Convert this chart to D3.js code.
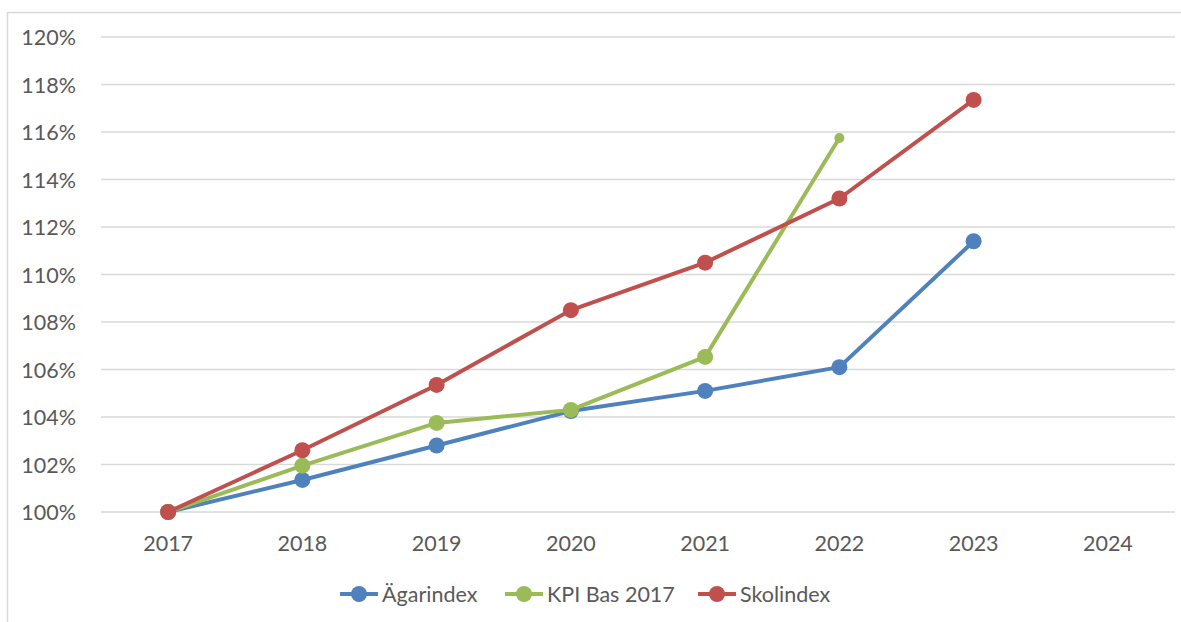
<!DOCTYPE html>
<html lang="sv">
<head>
<meta charset="utf-8" />
<title>Index</title>
<script src="https://cdn.jsdelivr.net/npm/d3@7"></script>
<style>
  body { margin: 0; background: #fff; }
  text { font-family: Lato, "Open Sans", sans-serif; fill: #595959; }
</style>
</head>
<body>
<script>
// kategorier och serier
var years = ['2017', '2018', '2019', '2020', '2021', '2022', '2023', '2024'];
var yTicks = [1.00, 1.02, 1.04, 1.06, 1.08, 1.10, 1.12, 1.14, 1.16, 1.18, 1.20];

var agarindex = [1.000, 1.0135, 1.028, 1.0425, 1.051, 1.061, 1.114, null];
var kpiBas2017 = [1.000, 1.0195, 1.0375, 1.043, 1.0653, 1.1575, null, null];
var skolindex = [1.000, 1.026, 1.0535, 1.085, 1.105, 1.132, 1.1735, null];

var seriesNames = ['Ägarindex', 'KPI Bas 2017', 'Skolindex'];
var seriesColors = ['#4F81BD', '#9BBB59', '#C0504D'];

var width = 1181, height = 622;
var svg = d3.select('body').append('svg')
  .attr('width', width)
  .attr('height', height);

// ram (bara vänster och överkant syns)
svg.append('line').attr('x1', 7.5).attr('x2', 7.5).attr('y1', 12).attr('y2', height)
  .attr('stroke', '#d9d9d9').attr('stroke-width', 1.5);
svg.append('line').attr('x1', 7.5).attr('x2', width).attr('y1', 12.5).attr('y2', 12.5)
  .attr('stroke', '#d9d9d9').attr('stroke-width', 1.5);

var x = d3.scaleBand().domain(years).range([101, 1175]);
var y = d3.scaleLinear().domain([1.00, 1.20]).range([512, 37]);

// rutnät
svg.append('g').selectAll('line').data(yTicks).enter().append('line')
  .attr('x1', 101).attr('x2', 1175)
  .attr('y1', function(d) { return y(d); })
  .attr('y2', function(d) { return y(d); })
  .attr('stroke', '#d9d9d9').attr('stroke-width', 1.5);

// y-axel
var yAxis = svg.append('g').attr('transform', 'translate(76,0)')
  .call(d3.axisLeft(y).tickValues(yTicks).tickSize(0).tickPadding(0)
    .tickFormat(function(d) { return Math.round(d * 100) + '%'; }));
yAxis.select('.domain').remove();
yAxis.selectAll('text').style('font-size', '21.5px').attr('dy', '0.35em');

// x-axel
var xAxis = svg.append('g').attr('transform', 'translate(0,536)')
  .call(d3.axisBottom(x).tickSize(0).tickPadding(0));
xAxis.select('.domain').remove();
xAxis.selectAll('text').style('font-size', '21.5px').attr('dy', '0.71em');

var line = d3.line()
  .defined(function(d) { return d != null; })
  .x(function(d, i) { return x(years[i]) + x.bandwidth() / 2; })
  .y(function(d) { return y(d); });

var allSeries = [agarindex, kpiBas2017, skolindex];
allSeries.forEach(function(s, k) {
  var g = svg.append('g');
  g.append('path').datum(s)
    .attr('d', line)
    .attr('fill', 'none')
    .attr('stroke', seriesColors[k])
    .attr('stroke-width', 4)
    .attr('stroke-linejoin', 'round');
  var pts = s.map(function(v, i) { return { v: v, i: i }; }).filter(function(p) { return p.v != null; });
  g.selectAll('circle').data(pts).enter().append('circle')
    .attr('cx', function(p) { return x(years[p.i]) + x.bandwidth() / 2; })
    .attr('cy', function(p) { return y(p.v); })
    .attr('r', function(p) { return (k === 1 && p.i === 5) ? 5 : 8; })
    .attr('fill', seriesColors[k]);
});

// förklaring
var legendX = [340, 505, 698];
var legend = svg.append('g');
seriesNames.forEach(function(name, k) {
  var lg = legend.append('g').attr('transform', 'translate(' + legendX[k] + ',594)');
  lg.append('line').attr('x1', 0).attr('x2', 38).attr('y1', 0).attr('y2', 0)
    .attr('stroke', seriesColors[k]).attr('stroke-width', 4);
  lg.append('circle').attr('cx', 19).attr('cy', 0).attr('r', 8).attr('fill', seriesColors[k]);
  lg.append('text').attr('x', 42).attr('y', 0).attr('dy', '0.35em')
    .style('font-size', '21.5px').text(name);
});
</script>
</body>
</html>
